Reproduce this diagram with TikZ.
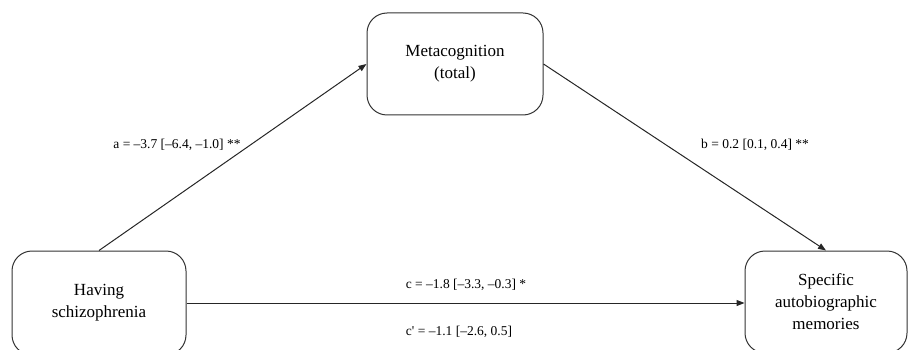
\documentclass[tikz,border=0pt]{standalone}
\usepackage{fontspec}
\setmainfont{Liberation Serif}
\newfontfamily\straightserif{Liberation Serif}
\usetikzlibrary{arrows.meta}
\begin{document}
\begin{tikzpicture}[x=1pt,y=-1pt,
  box/.style={draw=black!80,line width=1pt,rounded corners=20pt,align=center,
    font=\fontsize{17}{22}\selectfont,inner sep=0pt},
  lab/.style={font=\fontsize{13.5}{16}\selectfont,inner sep=0pt},
  conn/.style={draw=black!85,line width=1pt,-{Triangle[length=8pt,width=6pt]}}]
\useasboundingbox (0,0) rectangle (909,350);
\clip (0,0) rectangle (909,350);
\node[box,minimum width=174pt,minimum height=104pt] (L) at (99,303) {Having\\schizophrenia};
\node[box,minimum width=176pt,minimum height=102pt] (M) at (455,64) {Metacognition\\(total)};
\node[box,minimum width=162pt,minimum height=102pt] (R) at (826,302) {Specific\\autobiographic\\memories};
\draw[conn] (L.north) -- (M.west);
\draw[conn] (M.east) -- (R.north);
\draw[conn] (L.east) -- (R.west |- L.east);
\node[lab] (la) at (177,145) {a = –3.7 [–6.4, –1.0] **};
\node[lab] (lb) at (755,145) {b = 0.2 [0.1, 0.4] **};
\node[lab] (lc) at (466,285) {c = –1.8 [–3.3, –0.3] *};
\node[lab] (lc2) at (459,332) {{\straightserif c'} = –1.1 [–2.6, 0.5]};
\end{tikzpicture}
\end{document}
